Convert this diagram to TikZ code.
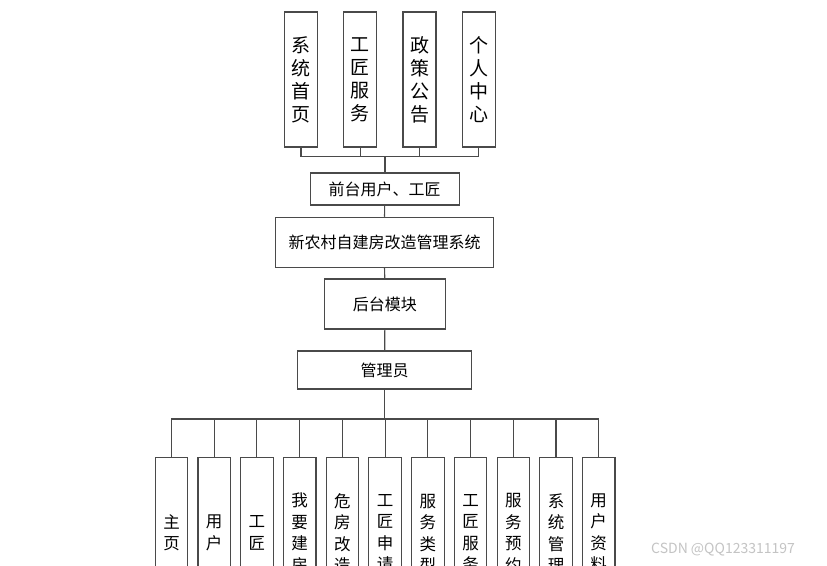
\documentclass[tikz,border=0pt]{standalone}
\usepackage{fontspec}
\newfontfamily\cjk{Noto Sans CJK SC}
\definecolor{edge}{HTML}{4A4A4A}
\definecolor{wm}{HTML}{C4C4C4}
\tikzset{
  box/.style={draw=edge, line width=1.1pt, fill=white, inner sep=0pt, align=center, font=\cjk\fontsize{16}{18}\selectfont},
  tallbox/.style={box, minimum width=33pt, minimum height=135pt, font=\cjk\fontsize{19}{23}\selectfont},
  lowbox/.style={box, minimum width=32.5pt, minimum height=151pt, font=\cjk\fontsize{16.5}{21.5}\selectfont},
  wire/.style={draw=edge, line width=1.1pt}
}
\begin{document}
\begin{tikzpicture}[x=1pt,y=-1pt]
\useasboundingbox (0,0) rectangle (827,565);
\clip (0,0) rectangle (827,565);
\fill[white] (0,0) rectangle (827,565);
% top
\node[tallbox] (t1) at (301,79.5) {系\\统\\首\\页};
\node[tallbox] (t2) at (360.3,79.5) {工\\匠\\服\\务};
\node[tallbox] (t3) at (419.5,79.5) {政\\策\\公\\告};
\node[tallbox] (t4) at (478.8,79.5) {个\\人\\中\\心};
\node[box, minimum width=149pt, minimum height=32pt] (front) at (384.7,189) {前台用户、工匠};
\node[box, minimum width=217.6pt, minimum height=50pt] (sys) at (384.5,242.3) {新农村自建房改造管理系统};
\node[box, minimum width=121pt, minimum height=50pt] (back) at (384.8,304) {后台模块};
\node[box, minimum width=174pt, minimum height=38pt] (admin) at (384.7,370) {管理员};
\coordinate (tb) at (384.7,156.7);
\draw[wire] (t1.south) -- (t1.south |- tb) -- (t4.south |- tb) -- (t4.south);
\draw[wire] (t2.south) -- (t2.south |- tb);
\draw[wire] (t3.south) -- (t3.south |- tb);
\draw[wire, line width=1.6pt] (tb) -- (front.north);
\draw[wire] (front.south) -- (sys.north);
\draw[wire] (sys.south) -- (back.north);
\draw[wire] (back.south) -- (admin.north);
% bottom
\node[lowbox] (b1) at (171.5,533) {主\\页};
\node[lowbox] (b2) at (214.2,533) {用\\户};
\node[lowbox] (b3) at (256.9,533) {工\\匠};
\node[lowbox] (b4) at (299.7,533) {我\\要\\建\\房};
\node[lowbox] (b5) at (342.4,533) {危\\房\\改\\造};
\node[lowbox] (b6) at (385.1,533) {工\\匠\\申\\请};
\node[lowbox] (b7) at (427.8,533) {服\\务\\类\\型};
\node[lowbox] (b8) at (470.5,533) {工\\匠\\服\\务};
\node[lowbox] (b9) at (513.3,533) {服\\务\\预\\约};
\node[lowbox] (b10) at (556.0,533) {系\\统\\管\\理};
\node[lowbox] (b11) at (598.7,533) {用\\户\\资\\料};
\coordinate (bb) at (384.7,419);
\draw[wire] (admin.south) -- (bb);
\draw[wire] (b1.north) -- (b1.north |- bb) -- (b11.north |- bb) -- (b11.north);
\foreach \i in {2,...,10} { \draw[wire] (b\i.north) -- (b\i.north |- bb); }
% watermark
\node[text=wm, font=\cjk\fontsize{14}{16}\selectfont, anchor=west, inner sep=0pt] (wmk) at (651,550) {CSDN @QQ123311197};
\end{tikzpicture}
\end{document}
